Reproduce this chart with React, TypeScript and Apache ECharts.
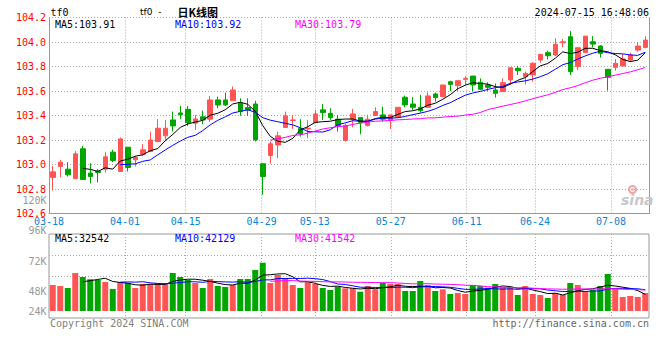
import React, { useEffect, useRef } from 'react';
import * as echarts from 'echarts';

const dates = [
  '03-18', '03-19', '03-20', '03-21', '03-22', '03-25', '03-26', '03-27', '03-28', '03-29',
  '04-01', '04-02', '04-03', '04-08', '04-09', '04-10', '04-11', '04-12', '04-15', '04-16',
  '04-17', '04-18', '04-19', '04-22', '04-23', '04-24', '04-25', '04-26', '04-29', '04-30',
  '05-06', '05-07', '05-08', '05-09', '05-10', '05-13', '05-14', '05-15', '05-16', '05-17',
  '05-20', '05-21', '05-22', '05-23', '05-24', '05-27', '05-28', '05-29', '05-30', '05-31',
  '06-03', '06-04', '06-05', '06-06', '06-07', '06-11', '06-12', '06-13', '06-14', '06-17',
  '06-18', '06-19', '06-20', '06-21', '06-24', '06-25', '06-26', '06-27', '06-28', '07-01',
  '07-02', '07-03', '07-04', '07-05', '07-08', '07-09', '07-10', '07-11', '07-12', '07-15',
];

const tickDates = ['03-18', '04-01', '04-15', '04-29', '05-13', '05-27', '06-11', '06-24', '07-08'];

const opens = [
  102.894, 102.984, 102.962, 102.884, 103.128, 102.930, 102.945, 102.962, 103.101, 102.943,
  103.141, 103.038, 103.084, 103.106, 103.188, 103.234, 103.364, 103.421, 103.451, 103.337,
  103.389, 103.370, 103.527, 103.527, 103.521, 103.500, 103.465, 103.494, 103.006, 103.074,
  103.160, 103.302, 103.359, 103.296, 103.290, 103.342, 103.446, 103.418, 103.370, 103.196,
  103.370, 103.383, 103.318, 103.400, 103.405, 103.364, 103.386, 103.549, 103.494, 103.467,
  103.467, 103.576, 103.554, 103.676, 103.644, 103.695, 103.722, 103.671, 103.649, 103.608,
  103.595, 103.690, 103.785, 103.717, 103.731, 103.853, 103.913, 103.894, 103.994, 104.043,
  103.799, 103.913, 104.002, 103.967, 103.777, 103.793, 103.804, 103.853, 103.934, 103.956,
];
const closes = [
  102.940, 103.019, 102.916, 103.087, 102.878, 102.902, 102.935, 103.063, 103.033, 103.209,
  102.976, 103.057, 103.120, 103.200, 103.296, 103.296, 103.315, 103.407, 103.342, 103.372,
  103.364, 103.527, 103.486, 103.486, 103.608, 103.432, 103.445, 103.201, 102.902, 103.169,
  103.234, 103.397, 103.364, 103.250, 103.296, 103.413, 103.424, 103.383, 103.318, 103.318,
  103.413, 103.342, 103.370, 103.432, 103.370, 103.405, 103.467, 103.486, 103.467, 103.440,
  103.560, 103.546, 103.649, 103.654, 103.684, 103.703, 103.649, 103.614, 103.630, 103.581,
  103.668, 103.790, 103.766, 103.744, 103.826, 103.899, 103.888, 103.981, 104.002, 103.758,
  103.953, 104.048, 103.983, 103.907, 103.712, 103.826, 103.861, 103.894, 103.967, 104.016,
];
const lows = [
  102.788, 102.894, 102.902, 102.884, 102.878, 102.845, 102.853, 102.935, 103.019, 102.943,
  102.943, 102.984, 103.071, 103.101, 103.182, 103.196, 103.269, 103.370, 103.315, 103.283,
  103.329, 103.348, 103.459, 103.478, 103.521, 103.397, 103.397, 103.188, 102.753, 103.006,
  103.052, 103.302, 103.291, 103.228, 103.215, 103.342, 103.364, 103.364, 103.269, 103.188,
  103.304, 103.247, 103.310, 103.397, 103.350, 103.291, 103.386, 103.467, 103.446, 103.424,
  103.467, 103.513, 103.554, 103.600, 103.600, 103.649, 103.600, 103.608, 103.600, 103.546,
  103.595, 103.649, 103.731, 103.654, 103.676, 103.831, 103.858, 103.888, 103.956, 103.731,
  103.771, 103.913, 103.956, 103.874, 103.603, 103.766, 103.804, 103.839, 103.921, 103.948,
];
const highs = [
  102.989, 103.038, 103.019, 103.111, 103.152, 103.011, 102.962, 103.103, 103.120, 103.220,
  103.141, 103.071, 103.166, 103.269, 103.370, 103.364, 103.432, 103.478, 103.478, 103.405,
  103.440, 103.560, 103.554, 103.587, 103.636, 103.540, 103.540, 103.519, 103.010, 103.188,
  103.269, 103.432, 103.405, 103.370, 103.364, 103.446, 103.494, 103.459, 103.405, 103.332,
  103.454, 103.383, 103.405, 103.467, 103.473, 103.405, 103.467, 103.562, 103.549, 103.568,
  103.590, 103.587, 103.650, 103.684, 103.684, 103.722, 103.722, 103.703, 103.671, 103.662,
  103.703, 103.790, 103.804, 103.758, 103.834, 103.899, 103.929, 104.030, 104.024, 104.089,
  103.953, 104.048, 104.048, 103.975, 103.777, 103.861, 103.902, 103.913, 103.997, 104.048,
];
const volumes = [
  51500, 49500, 45500, 75200, 67300, 62800, 61400, 57400, 43600, 57400,
  55400, 45500, 53500, 53500, 55400, 55400, 75200, 67300, 61400, 55400,
  45500, 63400, 49500, 47500, 51500, 63400, 63400, 81200, 95600, 55400,
  71300, 65300, 51500, 45500, 57400, 53500, 45500, 41600, 48100, 44900,
  44900, 38200, 49500, 43000, 55400, 53500, 53500, 39600, 39600, 59400,
  51500, 39600, 43000, 33700, 35600, 33700, 51500, 49500, 46100, 53500,
  47500, 45500, 31700, 49500, 33700, 31700, 25700, 35600, 31700, 55400,
  51500, 39600, 41600, 49500, 73300, 43600, 27700, 29700, 27700, 35600,
];

const priceLegend = ['MA5:103.91', 'MA10:103.92', 'MA30:103.79'];
const volumeLegend = ['MA5:32542', 'MA10:42129', 'MA30:41542'];
const volumeTickLabels = ['120K', '96K', '72K', '48K', '24K'];
const maPeriods = [5, 10, 30];

const RED = '#ff5555';
const GREEN = '#00a600';
const MA_COLORS = ['#000000', '#0000ff', '#ff00ff'];
const GRID_C = '#aaaaaa';
const AXIS_C = '#999999';
const BLUE_LABEL = '#0a84d4';
const MONO = '"DejaVu Sans Mono", monospace';

function movingAverage(vals: number[], n: number) {
  return vals.map((_, i) => {
    if (i < n - 1) return '-';
    let s = 0;
    for (let k = i - n + 1; k <= i; k++) s += vals[k];
    return +(s / n).toFixed(4);
  });
}

export default function App() {
  const ref = useRef<HTMLDivElement>(null);

  useEffect(() => {
    if (!ref.current) return;
    const chart = echarts.init(ref.current, undefined, { renderer: 'svg' });
    const tickSet = new Set(tickDates);
    const dotted = { color: GRID_C, width: 1, type: [1, 2] as any };

    const candleData = dates.map((_, i) => [opens[i], closes[i], lows[i], highs[i]]);
    const volData = dates.map((_, i) => ({
      value: volumes[i],
      itemStyle: { color: closes[i] >= opens[i] ? RED : GREEN },
    }));

    const priceMA = maPeriods.map((p, k) => ({
      type: 'line',
      xAxisIndex: 0,
      yAxisIndex: 0,
      data: movingAverage(closes, p),
      showSymbol: false,
      symbol: 'none',
      lineStyle: { width: 1, color: MA_COLORS[k] },
      itemStyle: { color: MA_COLORS[k] },
      z: 5,
    }));
    const volMA = maPeriods.map((p, k) => ({
      type: 'line',
      xAxisIndex: 2,
      yAxisIndex: 2,
      data: movingAverage(volumes, p),
      showSymbol: false,
      symbol: 'none',
      lineStyle: { width: 1, color: MA_COLORS[k] },
      itemStyle: { color: MA_COLORS[k] },
      z: 5,
    }));

    const legendX = [55, 175, 295];
    const texts: any[] = [];
    priceLegend.forEach((t, k) =>
      texts.push({ type: 'text', x: legendX[k], y: 24, style: { text: t, fill: MA_COLORS[k], font: `10px ${MONO}`, lineHeight: 9, textVerticalAlign: 'middle' } })
    );
    volumeLegend.forEach((t, k) =>
      texts.push({ type: 'text', x: legendX[k], y: 238, style: { text: t, fill: MA_COLORS[k], font: `10px ${MONO}`, lineHeight: 9, textVerticalAlign: 'middle' } })
    );
    const volLabelY = [200.7, 230.9, 261, 291, 311];
    volumeTickLabels.forEach((t, k) =>
      texts.push({ type: 'text', x: 46.5, y: volLabelY[k], style: { text: t, fill: '#999999', font: `10px ${MONO}`, lineHeight: 8, textAlign: 'right', textVerticalAlign: 'middle' } })
    );
    texts.push(
      { type: 'text', x: 50.5, y: 12, style: { text: 'tf0', fill: '#000', font: `10px ${MONO}`, lineHeight: 9, textVerticalAlign: 'middle' } },
      { type: 'text', x: 140, y: 12.3, style: { text: 'tf0  -', fill: '#000', font: '9px "DejaVu Sans"', lineHeight: 9, textVerticalAlign: 'middle' } },
      { type: 'text', x: 177.5, y: 12, style: { text: '日K线图', fill: '#000', font: 'bold 11px "Noto Sans CJK SC"', lineHeight: 10, textVerticalAlign: 'middle' } },
      { type: 'text', x: 649, y: 12, style: { text: '2024-07-15 16:48:06', fill: '#000', font: `10px ${MONO}`, lineHeight: 9, textAlign: 'right', textVerticalAlign: 'middle' } },
      { type: 'text', x: 50, y: 323.5, style: { text: 'Copyright 2024 SINA.COM', fill: '#808080', font: `10px ${MONO}`, lineHeight: 9, textVerticalAlign: 'middle' } },
      { type: 'text', x: 649, y: 323.5, style: { text: 'http://finance.sina.com.cn', fill: '#666666', font: `10px ${MONO}`, lineHeight: 9, textAlign: 'right', textVerticalAlign: 'middle' } },
      { type: 'ring', shape: { cx: 632.5, cy: 189.5, r: 4.5, r0: 2.5 }, style: { fill: '#f3a3a3' }, z: 1 },
      { type: 'circle', shape: { cx: 632.5, cy: 189.5, r: 1.3 }, style: { fill: '#f3a3a3' }, z: 1 },
      { type: 'text', x: 621, y: 200, style: { text: 'sina', fill: '#c8c8c8', font: 'italic bold 14px "DejaVu Sans"', lineHeight: 12, textVerticalAlign: 'middle' }, z: 1 }
    );

    const option: any = {
      animation: false,
      backgroundColor: '#ffffff',
      grid: [
        { left: 49, top: 17.5, width: 600, height: 196, show: false },
        { left: 49, top: 234, width: 600, height: 84, show: true, borderColor: AXIS_C, borderWidth: 1, backgroundColor: 'transparent' },
      ],
      xAxis: [
        { type: 'category', gridIndex: 0, data: dates, boundaryGap: true, show: false },
        {
          type: 'category', gridIndex: 0, data: dates, boundaryGap: false, position: 'bottom',
          axisLine: { show: true, lineStyle: { color: AXIS_C, width: 1 } },
          axisTick: { show: false },
          axisLabel: { interval: (_i: number, v: string) => tickSet.has(v), color: BLUE_LABEL, fontFamily: MONO, fontSize: 10, lineHeight: 8, margin: 4, hideOverlap: false },
          splitLine: { show: true, interval: (i: number, v: string) => i > 0 && tickSet.has(v), lineStyle: dotted },
        },
        { type: 'category', gridIndex: 1, data: dates, boundaryGap: true, show: false },
        {
          type: 'category', gridIndex: 1, data: dates, boundaryGap: false,
          axisLine: { show: false }, axisTick: { show: false }, axisLabel: { show: false },
          splitLine: { show: true, interval: (i: number, v: string) => i > 0 && tickSet.has(v), lineStyle: dotted },
        },
      ],
      yAxis: [
        {
          type: 'value', gridIndex: 0, min: 102.6, max: 104.2, interval: 0.2, position: 'left',
          axisLine: { show: true, lineStyle: { color: AXIS_C, width: 1 } },
          axisTick: { show: false },
          axisLabel: { color: '#ff0000', fontFamily: MONO, fontSize: 10, lineHeight: 8, margin: 3, formatter: (v: number) => v.toFixed(1) },
          splitLine: { show: true, lineStyle: dotted },
        },
        {
          type: 'value', gridIndex: 0, min: 102.6, max: 104.2, position: 'right',
          axisLine: { show: true, onZero: false, lineStyle: { color: AXIS_C, width: 1 } },
          axisTick: { show: false }, axisLabel: { show: false }, splitLine: { show: false },
        },
        { type: 'value', gridIndex: 1, min: -13860, max: 152460, show: false },
        {
          type: 'category', gridIndex: 1, data: ['a', 'b', 'c', 'd', 'e'], boundaryGap: false,
          axisLine: { show: false }, axisTick: { show: false }, axisLabel: { show: false },
          splitLine: { show: true, interval: (i: number) => i === 2 || i === 3, lineStyle: dotted },
        },
      ],
      series: [
        {
          type: 'candlestick', xAxisIndex: 0, yAxisIndex: 0, data: candleData, barWidth: 5, z: 3,
          itemStyle: { color: RED, color0: GREEN, borderColor: RED, borderColor0: GREEN, borderWidth: 1 },
        },
        ...priceMA,
        { type: 'bar', xAxisIndex: 2, yAxisIndex: 2, data: volData, barWidth: 6, z: 3 },
        ...volMA,
      ],
      graphic: { elements: texts },
    };
    chart.setOption(option);
    return () => chart.dispose();
  }, []);

  return <div ref={ref} style={{ position: 'absolute', left: 0, top: 0, width: 660, height: 360 }} />;
}
